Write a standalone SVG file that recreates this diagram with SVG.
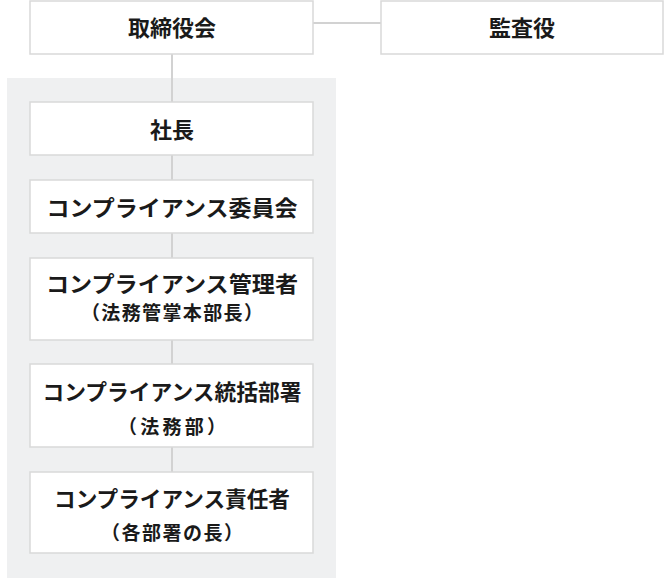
<svg xmlns="http://www.w3.org/2000/svg" width="670" height="578" viewBox="0 0 670 578">
<style>
.box{fill:#ffffff;stroke:#d9d9d9;stroke-width:1.5}
.panel{fill:#eff0f1}
.conn line{stroke:#d2d2d2;stroke-width:2}
text{font-family:"Noto Sans CJK JP","Noto Sans CJK SC",sans-serif;font-weight:700;fill:#1a1a1a;text-anchor:middle}
.m{font-size:22px}
.s{font-size:19px}
</style>
<rect class="panel" x="7" y="78" width="329" height="500"/>
<g class="conn">
<line x1="313" y1="23" x2="381" y2="23"/>
<line x1="172" y1="54" x2="172" y2="102"/>
<line x1="172" y1="155" x2="172" y2="180"/>
<line x1="172" y1="233" x2="172" y2="258"/>
<line x1="172" y1="340" x2="172" y2="364"/>
<line x1="172" y1="447" x2="172" y2="472"/>
</g>
<g id="board">
<rect class="box" x="30" y="1" width="283" height="53"/>
<text class="m" x="172" y="36">取締役会</text>
</g>
<g id="auditor">
<rect class="box" x="381" y="1" width="282" height="53"/>
<text class="m" x="522" y="36">監査役</text>
</g>
<g id="president">
<rect class="box" x="30" y="102" width="283" height="53"/>
<text class="m" x="172" y="138">社長</text>
</g>
<g id="committee">
<rect class="box" x="30" y="180" width="283" height="53"/>
<text class="m" x="172" y="216" textLength="251" lengthAdjust="spacingAndGlyphs">コンプライアンス委員会</text>
</g>
<g id="manager">
<rect class="box" x="30" y="258" width="283" height="82"/>
<text class="m" x="172" y="292" textLength="252" lengthAdjust="spacingAndGlyphs">コンプライアンス管理者</text>
<text class="s" x="172" y="320" textLength="182" lengthAdjust="spacing">（法務管掌本部長）</text>
</g>
<g id="department">
<rect class="box" x="30" y="364" width="283" height="83"/>
<text class="m" x="172" y="400" textLength="259" lengthAdjust="spacingAndGlyphs">コンプライアンス統括部署</text>
<text class="s" x="172" y="434" textLength="108" lengthAdjust="spacing">（法務部）</text>
</g>
<g id="officer">
<rect class="box" x="30" y="472" width="283" height="81"/>
<text class="m" x="172" y="507" textLength="236" lengthAdjust="spacingAndGlyphs">コンプライアンス責任者</text>
<text class="s" x="172" y="540" textLength="142" lengthAdjust="spacing">（各部署の長）</text>
</g>
</svg>
